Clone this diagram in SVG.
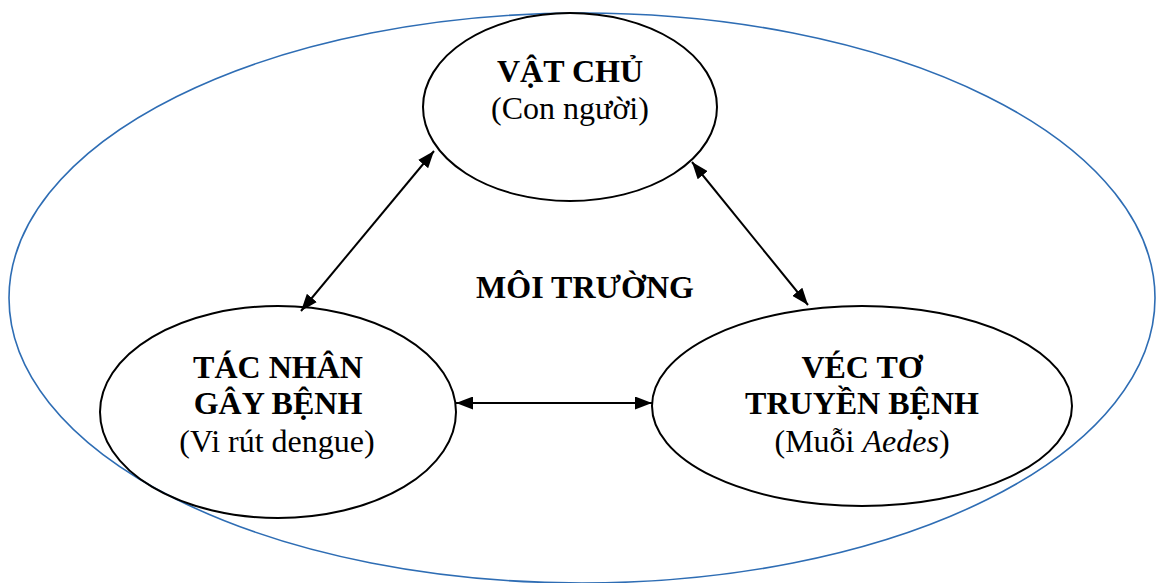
<svg xmlns="http://www.w3.org/2000/svg" width="1156" height="583" viewBox="0 0 1156 583">
<style>
.node{fill:none;stroke:#000;stroke-width:2}
.b{font-family:"Liberation Serif","Times New Roman",serif;font-weight:bold;font-size:32px;text-anchor:middle;fill:#000}
.r{font-family:"Liberation Serif","Times New Roman",serif;font-size:32px;text-anchor:middle;fill:#000}
.c{stroke:#000;stroke-width:2;fill:none;marker-start:url(#a);marker-end:url(#a)}
</style>
<defs>
<marker id="a" viewBox="0 0 10 10" refX="10" refY="5" markerWidth="17" markerHeight="13" markerUnits="userSpaceOnUse" orient="auto-start-reverse" preserveAspectRatio="none">
<path d="M0,0 L10,5 L0,10 z" fill="#000"/>
</marker>
</defs>
<rect width="1156" height="583" fill="#fff"/>
<g id="env">
<ellipse cx="582" cy="298" rx="573" ry="285" fill="none" stroke="#2e6db4" stroke-width="1.6"/>
<text class="b" x="585" y="298">MÔI TRƯỜNG</text>
</g>
<g id="host">
<ellipse class="node" cx="570" cy="107" rx="147" ry="94"/>
<text class="b" x="570" y="82">VẬT CHỦ</text>
<text class="r" x="570" y="119">(Con người)</text>
</g>
<g id="agent">
<ellipse class="node" cx="278" cy="412" rx="178" ry="106"/>
<text class="b" x="278" y="378">TÁC NHÂN</text>
<text class="b" x="278" y="414">GÂY BỆNH</text>
<text class="r" x="277" y="452">(Vi rút dengue)</text>
</g>
<g id="vector">
<ellipse class="node" cx="862" cy="406" rx="210" ry="100"/>
<text class="b" x="862" y="378">VÉC TƠ</text>
<text class="b" x="862" y="414">TRUYỀN BỆNH</text>
<text class="r" x="862" y="452">(Muỗi <tspan font-style="italic">Aedes</tspan>)</text>
</g>
<g id="connectors">
<line class="c" x1="301" y1="311" x2="434" y2="151"/>
<line class="c" x1="692" y1="162" x2="808" y2="305"/>
<line class="c" x1="456" y1="403" x2="652" y2="403"/>
</g>
</svg>
